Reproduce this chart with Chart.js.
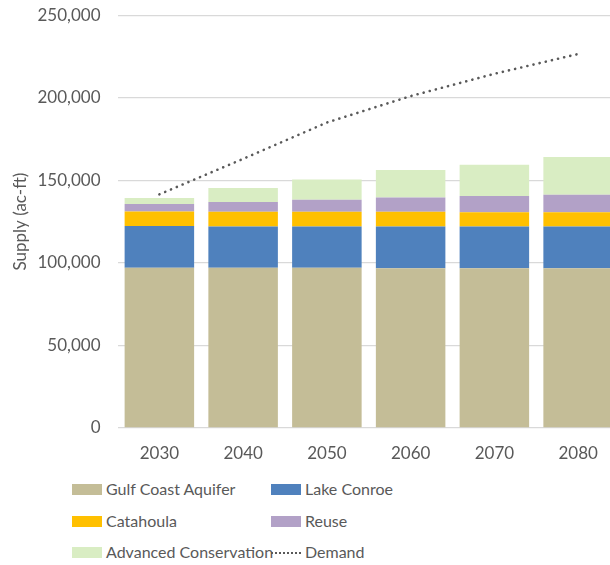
<!DOCTYPE html>
<html><head><meta charset="utf-8">
<script src="https://cdn.jsdelivr.net/npm/chart.js@4/dist/chart.umd.min.js"></script>
<style>
html,body{margin:0;padding:0;background:#fff;overflow:hidden;width:610px;height:565px;}
#wrap{position:absolute;left:0;top:-12px;width:620px;height:482px;}
#legend{position:absolute;left:0;top:0;font-family:Lato,"Open Sans",sans-serif;font-size:16px;color:#595959;}
.item{position:absolute;height:20px;line-height:20px;white-space:nowrap;}
.box{position:absolute;left:0;top:5px;width:30px;height:11px;}
.txt{position:absolute;left:34px;top:0;}
.dots{position:absolute;left:0;top:10px;width:30px;height:0;border-top:2.5px dotted #595959;}
</style></head>
<body>
<div id="wrap"><canvas id="c" width="620" height="482"></canvas></div>
<div id="legend"></div>
<script>
const categories = ["2030","2040","2050","2060","2070","2080"];
const gulfCoastAquifer = [97000, 97000, 97000, 96800, 96800, 96800];
const lakeConroe = [25300, 25000, 25000, 25200, 25200, 25200];
const catahoula = [8800, 9000, 9000, 9000, 8700, 8700];
const reuse = [4600, 5800, 7200, 8600, 9800, 10600];
const advancedConservation = [3600, 8500, 12300, 16600, 19000, 22800];
const demand = [141500, 163000, 185000, 201000, 214500, 226500];
const yTicks = [0, 50000, 100000, 150000, 200000, 250000];

const colors = {gulf:"#c4bd97", lake:"#4f81bd", cat:"#ffc000", reuse:"#b2a1c7", cons:"#d9edc3", demand:"#595959"};
const FONT = "Lato";

const barDs = (label, data, color) => ({type:"bar", label, data, backgroundColor:color, borderWidth:0, stack:"s", order:2, barPercentage:0.83, categoryPercentage:1.0});

new Chart(document.getElementById("c"), {
  data:{
    labels: categories,
    datasets:[
      barDs("Gulf Coast Aquifer", gulfCoastAquifer, colors.gulf),
      barDs("Lake Conroe", lakeConroe, colors.lake),
      barDs("Catahoula", catahoula, colors.cat),
      barDs("Reuse", reuse, colors.reuse),
      barDs("Advanced Conservation", advancedConservation, colors.cons),
      {type:"line", label:"Demand", data:demand, borderColor:colors.demand, borderWidth:2.6, borderDash:[0.1,6.2], borderCapStyle:"round", pointRadius:0, fill:false, tension:0, order:1}
    ]
  },
  options:{
    responsive:false, animation:false,
    layout:{padding:{top:3, right:0, left:0, bottom:0}},
    plugins:{legend:{display:false}, tooltip:{enabled:false}},
    scales:{
      x:{stacked:true, offset:true,
         grid:{display:false, drawTicks:false},
         border:{display:false},
         ticks:{color:"#595959", font:{family:FONT, size:17}, padding:15},
         afterFit:(s)=>{s.height=42;}
      },
      y:{stacked:true, min:0, max:250000,
         afterBuildTicks:(s)=>{s.ticks=yTicks.map(v=>({value:v}));},
         grid:{color:"#d9d9d9", lineWidth:1.3, drawTicks:false},
         border:{display:false},
         ticks:{color:"#595959", font:{family:FONT, size:17}, padding:17,
                callback:(v)=>v.toLocaleString("en-US")},
         title:{display:true, text:"Supply (ac-ft)", color:"#595959", font:{family:FONT, size:17}, padding:{top:10,bottom:0}},
         afterFit:(s)=>{s.width=117.5;}
      }
    }
  }
});

const legendItems = [
  {label:"Gulf Coast Aquifer", color:colors.gulf, x:72, y:479},
  {label:"Lake Conroe", color:colors.lake, x:271, y:479},
  {label:"Catahoula", color:colors.cat, x:72, y:511},
  {label:"Reuse", color:colors.reuse, x:271, y:511},
  {label:"Advanced Conservation", color:colors.cons, x:72, y:542},
  {label:"Demand", color:null, x:271, y:542}
];
const lg = document.getElementById("legend");
legendItems.forEach(it=>{
  const d=document.createElement("div"); d.className="item";
  d.style.left=it.x+"px"; d.style.top=it.y+"px";
  const m=document.createElement("div");
  if(it.color){m.className="box"; m.style.background=it.color;} else {m.className="dots";}
  d.appendChild(m);
  const t=document.createElement("div"); t.className="txt"; t.textContent=it.label;
  d.appendChild(t); lg.appendChild(d);
});
</script>
</body></html>
